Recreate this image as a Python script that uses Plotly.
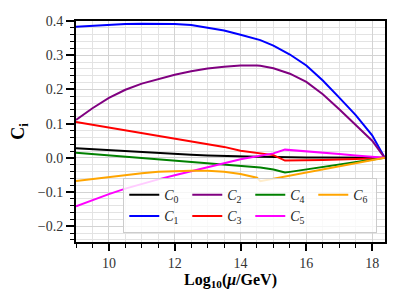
import plotly.graph_objects as go

# log10(mu/GeV) sample points
x_vals = [9, 9.5, 10, 10.5, 11, 11.5, 12, 12.5, 13, 13.5, 14, 14.5, 14.6, 15, 15.35,
          15.5, 16, 16.5, 17, 17.5, 18, 18.38]

c0 = [0.028, 0.025, 0.022, 0.019, 0.016, 0.013, 0.011, 0.009, 0.007, 0.005, 0.004, 0.003,
      0.003, 0.002, 0.001, 0.001, 0.001, 0.001, 0.001, 0.0005, 0.0003, 0.0]
c1 = [0.383, 0.386, 0.389, 0.391, 0.392, 0.392, 0.391, 0.388, 0.381, 0.372, 0.360, 0.347,
      0.344, 0.328, 0.310, 0.302, 0.270, 0.226, 0.176, 0.125, 0.066, 0.0]
c2 = [0.111, 0.145, 0.175, 0.199, 0.217, 0.231, 0.243, 0.253, 0.261, 0.266, 0.270, 0.270,
      0.269, 0.262, 0.252, 0.246, 0.222, 0.186, 0.142, 0.096, 0.050, 0.0]
c3 = [0.105, 0.097, 0.090, 0.082, 0.074, 0.066, 0.058, 0.050, 0.041, 0.032, 0.021, 0.015,
      0.013, 0.008, -0.008, -0.008, -0.007, -0.006, -0.005, -0.004, -0.002, 0.0]
c4 = [0.015, 0.011, 0.007, 0.003, 0.000, -0.004, -0.007, -0.011, -0.015, -0.019, -0.023, -0.027,
      -0.028, -0.034, -0.043, -0.041, -0.034, -0.027, -0.020, -0.013, -0.005, 0.0]
c5 = [-0.142, -0.123, -0.106, -0.090, -0.076, -0.063, -0.051, -0.040, -0.028, -0.016, -0.004, 0.005,
      0.007, 0.013, 0.024, 0.023, 0.019, 0.015, 0.011, 0.007, 0.003, 0.0]
c6 = [-0.068, -0.062, -0.056, -0.050, -0.045, -0.041, -0.039, -0.038, -0.038, -0.041, -0.047, -0.058,
      -0.068, -0.061, -0.054, -0.052, -0.043, -0.034, -0.025, -0.016, -0.007, 0.0]

series = [c0, c1, c2, c3, c4, c5, c6]
names = ["<i>C</i><sub>0</sub>", "<i>C</i><sub>1</sub>", "<i>C</i><sub>2</sub>",
         "<i>C</i><sub>3</sub>", "<i>C</i><sub>4</sub>", "<i>C</i><sub>5</sub>",
         "<i>C</i><sub>6</sub>"]
colors = ["#000000", "#0000ff", "#800080", "#ff0000", "#008000", "#ff00ff", "#ffa500"]
ranks = [1, 5, 2, 6, 3, 7, 4]

FONT = "Liberation Serif, DejaVu Serif, serif"

fig = go.Figure()
for ys, nm, col, rk in zip(series, names, colors, ranks):
    fig.add_trace(go.Scatter(x=x_vals, y=ys, mode="lines", name=nm,
                             line=dict(color=col, width=2), legendrank=rk))

fig.update_layout(
    width=407, height=305,
    margin=dict(l=76, r=22, t=21, b=63, autoexpand=False),
    paper_bgcolor="white", plot_bgcolor="white",
    font=dict(family=FONT, size=13, color="#222222"),
    showlegend=True,
    legend=dict(orientation="h", x=0.975, xanchor="right", y=0.04, yanchor="bottom",
                entrywidth=18, bgcolor="rgba(255,255,255,0.8)", bordercolor="#cccccc",
                borderwidth=1, font=dict(family=FONT, size=14, color="#222222"),
                traceorder="normal"),
)

fig.update_xaxes(
    range=[9, 18.39], tick0=0, dtick=2, ticks="outside", ticklen=7, tickwidth=1.5,
    tickcolor="black", showline=True, linewidth=2, linecolor="black", mirror=True,
    showgrid=True, gridcolor="#d3d3d3", gridwidth=1, zeroline=False, automargin=False,
    minor=dict(dtick=0.5, tick0=0, ticks="outside", ticklen=4, tickwidth=1,
               tickcolor="black", showgrid=True, gridcolor="#e3e3e3", gridwidth=1),
    tickfont=dict(family=FONT, size=14, color="#333333"),
    title=dict(text="<b>Log<sub>10</sub>(<i>μ</i>/GeV)</b>", standoff=2,
               font=dict(family=FONT, size=16, color="black")),
)
fig.update_yaxes(
    range=[-0.246, 0.4], tick0=0, dtick=0.1, ticks="outside", ticklen=8, tickwidth=1.5,
    tickcolor="black", showline=True, linewidth=2, linecolor="black", mirror=True,
    showgrid=True, gridcolor="#d3d3d3", gridwidth=1, zeroline=False, automargin=False,
    tickformat=".1f",
    minor=dict(dtick=0.02, tick0=0, ticks="outside", ticklen=4, tickwidth=1,
               tickcolor="black", showgrid=True, gridcolor="#e3e3e3", gridwidth=1),
    tickfont=dict(family=FONT, size=14, color="#333333"),
    title=dict(text="<b>C<sub>i</sub></b>", standoff=8,
               font=dict(family=FONT, size=18, color="black")),
)

fig.write_html("out.html", config={"displayModeBar": False},
               post_script="document.body.style.margin='0';")
